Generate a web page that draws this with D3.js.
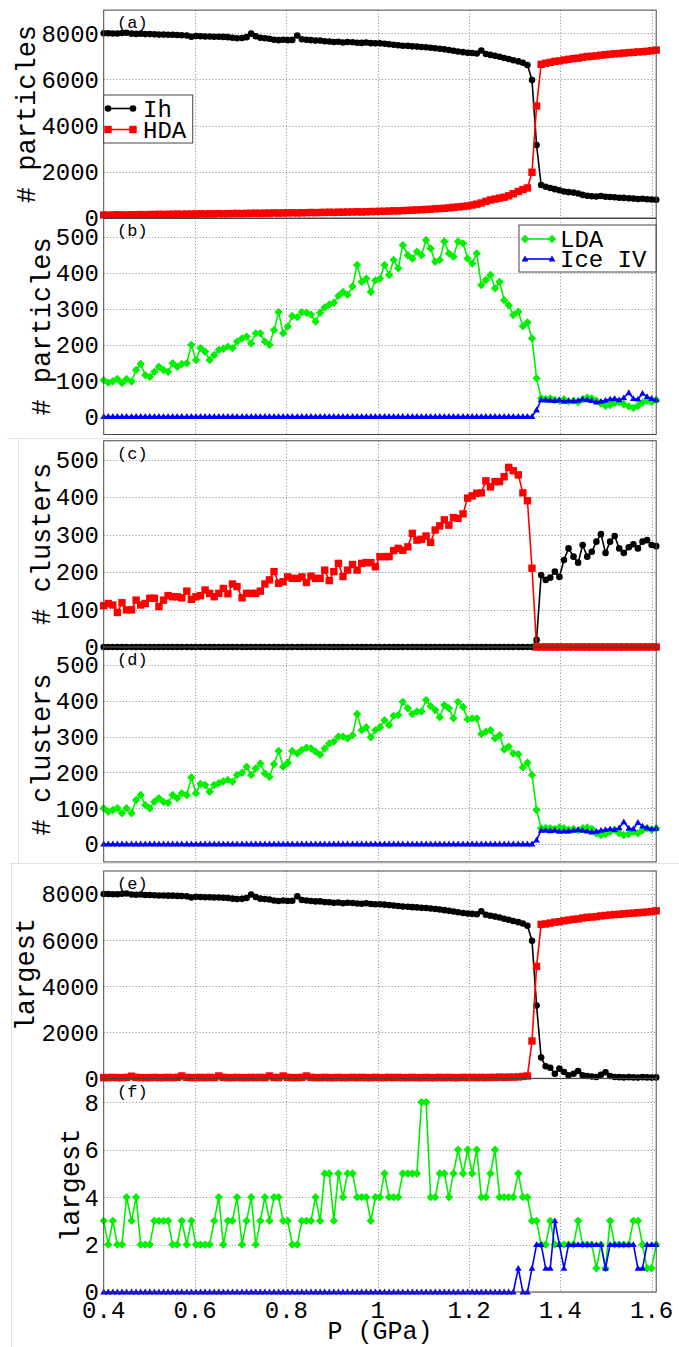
<!DOCTYPE html>
<html><head><meta charset="utf-8">
<script src="https://cdn.jsdelivr.net/npm/d3@7"></script>
<style>
body{margin:0;background:#fff}
svg{display:block}
text{font-family:"Liberation Mono","DejaVu Sans Mono",monospace;fill:#000}
</style>
</head><body>
<svg id="chart" width="679" height="1347"></svg>
<script>
// Pressure grid (GPa), 121 states
const P = [0.400,0.410,0.420,0.430,0.440,0.450,
0.461,0.471,0.481,0.491,0.501,0.511,0.521,0.531,0.541,0.551,0.561,0.571,
0.582,0.592,0.602,0.612,0.622,0.632,0.642,0.652,0.662,0.672,0.682,0.692,
0.703,0.713,0.723,0.733,0.743,0.753,0.763,0.773,0.783,0.793,0.803,0.813,
0.824,0.834,0.844,0.854,0.864,0.874,0.884,0.894,0.904,0.914,0.924,0.934,
0.945,0.955,0.965,0.975,0.985,0.995,1.005,1.015,1.025,1.035,1.045,1.055,
1.066,1.076,1.086,1.096,1.106,1.116,1.126,1.136,1.146,1.156,1.166,1.176,
1.187,1.197,1.207,1.217,1.227,1.237,1.247,1.257,1.267,1.277,1.287,1.297,
1.308,1.318,1.328,1.338,1.348,1.358,1.368,1.378,1.388,1.398,1.408,1.418,
1.429,1.439,1.449,1.459,1.469,1.479,1.489,1.499,1.509,1.519,1.529,1.539,
1.550,1.560,1.570,1.580,1.590,1.600,1.610];

const xTicks = [0.4,0.6,0.8,1.0,1.2,1.4,1.6];
const xTickLabels = ["0.4","0.6","0.8","1","1.2","1.4","1.6"];

// (a) number of particles
const aIh = [8000,8000,7990,7990,8010,8020,7980,7970,7980,7960,
7960,7950,7940,7940,7930,7930,7920,7910,7900,7850,
7880,7870,7860,7860,7850,7850,7840,7830,7800,7780,
7790,7830,7980,7870,7800,7780,7760,7720,7700,7720,
7700,7710,7900,7740,7720,7700,7680,7680,7650,7640,
7620,7630,7600,7620,7610,7590,7580,7600,7570,7560,
7560,7540,7520,7500,7480,7460,7450,7430,7420,7400,
7390,7370,7350,7330,7300,7270,7240,7210,7180,7150,
7140,7120,7250,7100,7060,7020,6980,6930,6880,6830,
6780,6720,6620,5970,3160,1430,1350,1300,1250,1200,
1150,1120,1100,1060,1000,960,940,930,950,920,
910,900,880,870,850,840,820,830,810,800,790];
const aHDA = [130,120,130,140,130,130,140,140,150,140,
150,150,160,150,160,160,170,160,170,170,
170,180,170,180,180,190,180,190,190,200,
190,200,200,210,200,210,210,220,210,220,
220,230,220,230,230,240,230,240,240,250,
240,250,250,260,260,270,260,270,280,280,
290,290,300,310,310,320,330,340,350,360,
370,380,400,410,420,440,460,480,500,520,
560,600,650,720,780,820,860,900,960,1050,
1150,1230,1300,1980,4850,6650,6700,6740,6780,6800,
6840,6870,6900,6920,6960,6990,7000,7020,7050,7070,
7090,7110,7120,7140,7160,7170,7190,7200,7220,7240,7270];

// (b) number of particles
const bLDA = [101,94,98,104,93,104,97,129,146,115,
110,124,138,129,124,148,138,146,148,199,
157,190,180,157,171,185,188,194,190,208,
217,222,203,231,231,208,199,240,290,231,
250,279,276,290,288,283,264,288,303,311,
316,335,
346,338,361,421,374,383,346,378,383,421,
393,435,412,476,448,439,458,448,490,467,
430,435,486,453,444,486,481,439,425,453,
365,379,393,356,374,323,309,282,291,251,
261,217,106,51,
48,50,46,44,48,42,44,40,48,52,
50,44,36,30,32,38,40,34,28,24,
30,38,44,40,46];
const bIceIV = [0,0,0,0,0,0,0,0,0,0, 0,0,0,0,0,0,0,0,0,0,
0,0,0,0,0,0,0,0,0,0, 0,0,0,0,0,0,0,0,0,0,
0,0,0,0,0,0,0,0,0,0, 0,0,0,0,0,0,0,0,0,0,
0,0,0,0,0,0,0,0,0,0, 0,0,0,0,0,0,0,0,0,0,
0,0,0,0,0,0,0,0,0,0, 0,0,0,0,18,
46,46,45,44,46,42,44,43,45,48,
46,44,40,42,45,48,50,46,52,66,
50,48,64,55,50,46];

// (c) number of clusters
const cIh = [0,0,0,0,0,0,0,0,0,0, 0,0,0,0,0,0,0,0,0,0,
0,0,0,0,0,0,0,0,0,0, 0,0,0,0,0,0,0,0,0,0,
0,0,0,0,0,0,0,0,0,0, 0,0,0,0,0,0,0,0,0,0,
0,0,0,0,0,0,0,0,0,0, 0,0,0,0,0,0,0,0,0,0,
0,0,0,0,0,0,0,0,0,0, 0,0,0,0,19,
192,179,185,201,187,232,263,241,225,272,
241,254,281,301,251,281,296,263,251,266,
274,263,281,285,272,269];
const cHDA = [110,116,112,92,118,99,99,125,112,116,
130,130,108,125,137,134,134,131,149,127,
134,137,152,143,134,143,156,142,168,161,
131,143,143,143,149,168,179,201,170,174,
187,183,183,187,172,189,183,183,205,177,
201,223,
188,205,220,205,223,225,225,214,241,241,
241,257,263,258,267,303,285,287,296,279,
312,323,339,325,345,343,355,397,403,410,
411,443,427,441,441,454,479,470,459,411,
390,210,
0,0,0,0,0,0,0,0,0,0, 0,0,0,0,0,0,0,0,0,0,
0,0,0,0,0,0,0];

// (d) number of clusters
const dLDA = [100,90,95,100,86,100,86,123,137,109,
100,118,128,118,115,137,128,142,137,186,
142,168,165,146,165,170,175,179,174,193,
199,216,193,211,225,197,188,223,260,216,
227,260,253,263,269,267,258,249,267,281,
286,300,
300,295,304,363,318,326,298,318,326,346,
332,358,360,397,379,363,370,370,402,385,
374,354,388,379,351,397,383,348,351,351,
307,314,318,295,304,264,272,253,251,214,
227,193,95,44,
45,44,42,46,44,40,42,38,44,46,
42,30,25,28,34,40,30,25,28,34,
30,38,44,40,44];
const dIceIV = [0,0,0,0,0,0,0,0,0,0, 0,0,0,0,0,0,0,0,0,0,
0,0,0,0,0,0,0,0,0,0, 0,0,0,0,0,0,0,0,0,0,
0,0,0,0,0,0,0,0,0,0, 0,0,0,0,0,0,0,0,0,0,
0,0,0,0,0,0,0,0,0,0, 0,0,0,0,0,0,0,0,0,0,
0,0,0,0,0,0,0,0,0,0, 0,0,0,0,11,
38,38,37,38,35,36,36,38,40,38,
36,33,35,38,40,42,40,45,62,44,
42,60,50,45,42,44];

// (e) largest cluster
const eIh = [8000,8000,7990,7990,8010,8020,7980,7970,7980,7960,
7960,7950,7940,7940,7930,7930,7920,7910,7900,7850,
7880,7870,7860,7860,7850,7850,7840,7830,7800,7780,
7790,7830,7980,7870,7800,7780,7760,7720,7700,7720,
7700,7710,7900,7740,7720,7700,7680,7680,7650,7640,
7620,7630,7600,7620,7610,7590,7580,7600,7570,7560,
7560,7540,7520,7500,7480,7460,7450,7430,7420,7400,
7390,7370,7350,7330,7300,7270,7240,7210,7180,7150,
7140,7120,7250,7100,7060,7020,6980,6930,6880,6830,
6780,6720,6620,5970,3160,900,520,460,200,420,
270,130,200,320,130,100,80,60,150,260,
100,60,50,40,50,40,30,50,40,30,40];
const eHDA = [30,30,40,30,30,40,90,40,30,30,
30,40,30,30,40,30,40,100,40,30,
30,40,30,40,30,100,40,30,30,40,
30,30,40,30,40,30,100,40,30,100,
40,30,30,40,100,40,30,30,40,30,
30,40,30,30,40,30,40,30,30,40,
30,30,40,30,40,30,30,40,30,30,
40,30,30,40,30,40,30,30,40,30,
40,30,40,30,40,40,50,40,50,50,
60,80,100,1620,4860,6680,6700,6740,6780,6800,
6840,6870,6900,6920,6960,6990,7000,7020,7050,7070,
7090,7110,7120,7140,7160,7170,7190,7200,7220,7240,7270];

// (f) largest cluster
const fLDA = [3,2,3,2,2,4,3,4,2,2,
2,3,3,3,3,2,2,3,2,3,
2,2,2,2,3,4,2,3,3,4,
2,3,4,2,3,4,3,4,4,3,
3,2,2,3,3,3,4,3,5,5,
3,5,
4,5,5,4,4,4,3,4,4,5,
4,4,4,5,5,5,5,8,8,4,
4,5,5,4,5,6,5,6,5,6,
4,4,5,6,4,4,4,4,5,4,
4,3,3,2,2,3,2,2,2,2,
2,3,2,2,2,1,2,1,3,2,
2,2,2,3,3,2,1,1,2];
const fIceIV = [0,0,0,0,0,0,0,0,0,0, 0,0,0,0,0,0,0,0,0,0,
0,0,0,0,0,0,0,0,0,0, 0,0,0,0,0,0,0,0,0,0,
0,0,0,0,0,0,0,0,0,0, 0,0,0,0,0,0,0,0,0,0,
0,0,0,0,0,0,0,0,0,0, 0,0,0,0,0,0,0,0,0,0,
0,0,0,0,0,0,0,0,0,0,
1,0,0,1,2,2,1,1,3,2,
1,2,2,2,2,2,2,2,2,1,
2,2,2,2,2,2,1,1,2,2,2];

const C = {Ih:"#000000", HDA:"#ff0000", LDA:"#00f000", IceIV:"#0000ff"};

const svg = d3.select("#chart");
const x = d3.scaleLinear().domain([0.4, 1.61]).range([103.7, 656.2]);
const L = 103.7, R = 656.2;

// faint compositing borders of the original figure
svg.append("g").attr("stroke", "#e2e2e2").attr("stroke-width", 1).call(g => {
  g.append("line").attr("x1", 7).attr("x2", 660).attr("y1", 438.5).attr("y2", 438.5);
  g.append("line").attr("x1", 18.5).attr("x2", 18.5).attr("y1", 439).attr("y2", 863);
  g.append("line").attr("x1", 10).attr("x2", 679).attr("y1", 863.5).attr("y2", 863.5);
  g.append("line").attr("x1", 11.5).attr("x2", 11.5).attr("y1", 863).attr("y2", 1347);
});

function markerPath(m) {
  if (m === "circle") return d3.symbol(d3.symbolCircle, 34)();
  if (m === "square") return "M-3.7,-3.7H3.7V3.7H-3.7Z";
  if (m === "diamond") return "M0,-4.2L4.2,0L0,4.2L-4.2,0Z";
  return "M0,-3.4L3.4,2.4L-3.4,2.4Z";
}

const panels = [
  {tag:"(a)", ylab:"# particles", ylabX:35, domain:[0,9000], range:[218,10.1], ticks:[0,2000,4000,6000,8000],
   series:[{v:aIh,c:C.Ih,m:"circle"},{v:aHDA,c:C.HDA,m:"square"}],
   legend:{x:103.7,y:95,w:89,h:48,lx1:108,lx2:133,tx:143,rows:[{t:"Ih",c:C.Ih,m:"circle",y:108.5},{t:"HDA",c:C.HDA,m:"square",y:129.5}]}},
  {tag:"(b)", ylab:"# particles", ylabX:50, domain:[-50,550], range:[434.5,218.5], ticks:[0,100,200,300,400,500],
   series:[{v:bLDA,c:C.LDA,m:"diamond"},{v:bIceIV,c:C.IceIV,m:"triangle"}],
   legend:{x:519,y:225,w:137,h:47,lx1:525,lx2:552,tx:560,rows:[{t:"LDA",c:C.LDA,m:"diamond",y:239},{t:"Ice IV",c:C.IceIV,m:"triangle",y:259}]}},
  {tag:"(c)", ylab:"# clusters", ylabX:50, domain:[0,550], range:[647,440.75], ticks:[0,100,200,300,400,500],
   series:[{v:cIh,c:C.Ih,m:"circle"},{v:cHDA,c:C.HDA,m:"square"}]},
  {tag:"(d)", ylab:"# clusters", ylabX:50, domain:[-50,550], range:[861.9,647.1], ticks:[0,100,200,300,400,500],
   series:[{v:dLDA,c:C.LDA,m:"diamond"},{v:dIceIV,c:C.IceIV,m:"triangle"}]},
  {tag:"(e)", ylab:"largest", ylabX:34, domain:[0,9000], range:[1078.3,871], ticks:[0,2000,4000,6000,8000],
   series:[{v:eIh,c:C.Ih,m:"circle"},{v:eHDA,c:C.HDA,m:"square"}]},
  {tag:"(f)", ylab:"largest", ylabX:79, domain:[0,9], range:[1292,1078.6], ticks:[0,2,4,6,8],
   series:[{v:fLDA,c:C.LDA,m:"diamond"},{v:fIceIV,c:C.IceIV,m:"triangle"}]}
];

panels.forEach(p => {
  const y = d3.scaleLinear().domain(p.domain).range(p.range);
  const top = p.range[1], bot = p.range[0];
  const g = svg.append("g");

  // grid
  const grid = g.append("g").attr("stroke", "#8a8a8a").attr("stroke-width", 1).attr("stroke-dasharray", "1,2.2");
  p.ticks.forEach(t => grid.append("line").attr("x1", L).attr("x2", R).attr("y1", Math.round(y(t))+0.5).attr("y2", Math.round(y(t))+0.5));
  xTicks.slice(1).forEach(t => grid.append("line").attr("x1", Math.round(x(t))+0.5).attr("x2", Math.round(x(t))+0.5).attr("y1", top).attr("y2", bot));

  // y tick labels
  g.append("g").selectAll("text").data(p.ticks).join("text")
    .attr("x", 99).attr("y", d => y(d)).attr("dy", "0.35em")
    .attr("text-anchor", "end").attr("font-size", 24).text(d => d);

  // y axis title
  g.append("text").attr("transform", `translate(${p.ylabX},${(top+bot)/2}) rotate(-90)`)
    .attr("text-anchor", "middle").attr("font-size", 27).text(p.ylab);

  // panel tag
  g.append("text").attr("x", 117).attr("y", top + 12).attr("dy", "0.35em")
    .attr("font-size", 17).text(p.tag);

  // series
  p.series.forEach(s => {
    const pts = P.map((px, i) => [x(px), y(s.v[i])]);
    g.append("path").attr("d", d3.line()(pts)).attr("fill", "none")
      .attr("stroke", s.c).attr("stroke-width", 1.6).attr("stroke-linejoin", "round");
    g.append("g").selectAll("path").data(pts).join("path")
      .attr("transform", d => `translate(${d[0]},${d[1]})`)
      .attr("d", markerPath(s.m)).attr("fill", s.c);
  });

  // frame
  g.append("rect").attr("x", L).attr("y", top).attr("width", R - L).attr("height", bot - top)
    .attr("fill", "none").attr("stroke", "#454545").attr("stroke-width", 1);

  // legend
  if (p.legend) {
    const lg = p.legend;
    const lgG = g.append("g");
    lgG.append("rect").attr("x", lg.x).attr("y", lg.y).attr("width", lg.w).attr("height", lg.h)
      .attr("fill", "#fff").attr("stroke", "#454545").attr("stroke-width", 1);
    lg.rows.forEach(r => {
      lgG.append("line").attr("x1", lg.lx1).attr("x2", lg.lx2).attr("y1", r.y).attr("y2", r.y)
        .attr("stroke", r.c).attr("stroke-width", 1.6);
      [lg.lx1, lg.lx2].forEach(mx => lgG.append("path").attr("transform", `translate(${mx},${r.y})`)
        .attr("d", markerPath(r.m)).attr("fill", r.c));
      lgG.append("text").attr("x", lg.tx).attr("y", r.y).attr("dy", "0.35em")
        .attr("font-size", 24).text(r.t);
    });
  }
});

// x axis tick labels and title (bottom panel only)
svg.append("g").selectAll("text").data(xTicks).join("text")
  .attr("x", d => x(d)).attr("y", 1310).attr("dy", "0.35em")
  .attr("text-anchor", "middle").attr("font-size", 24)
  .text((d, i) => xTickLabels[i]);
svg.append("text").attr("x", 380).attr("y", 1339)
  .attr("text-anchor", "middle").attr("font-size", 25).text("P (GPa)");
</script>
</body></html>
